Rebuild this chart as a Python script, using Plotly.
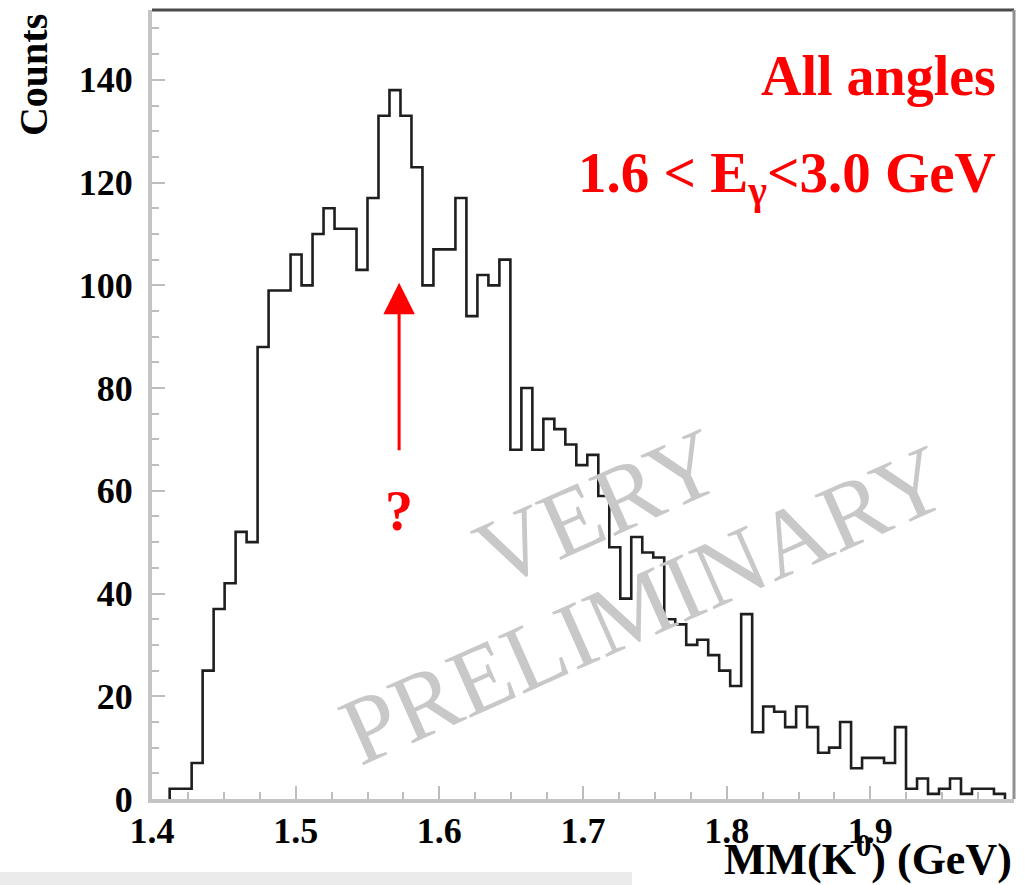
import numpy as np
import plotly.graph_objects as go

# Missing-mass histogram, MM(K0), all angles, 1.6 < E_gamma < 3.0 GeV
bin_start = 1.4123      # GeV, lower edge of first bin
bin_width = 0.00765     # GeV
counts = [2, 2, 7, 25, 37, 42, 52, 50, 88, 99,
          99, 106, 100, 110, 115, 111, 111, 103, 117, 133,
          138, 133, 123, 100, 107, 107, 117, 94, 102, 100,
          105, 68, 80, 68, 74, 72, 69, 65, 67, 59,
          49, 39, 51, 48, 47, 35, 34, 30, 31, 28,
          25, 22, 36, 13, 18, 17, 14, 18, 14, 9,
          10, 15, 6, 8, 8, 7, 14, 2, 4, 1,
          2, 4, 1, 2, 2, 1]

x_ticks = [1.4, 1.5, 1.6, 1.7, 1.8, 1.9]
x_ticktext = ["1.4", "1.5", "1.6", "1.7", "1.8", "1.9"]
y_ticks = [0, 20, 40, 60, 80, 100, 120, 140]
y_ticktext = ["0", "20", "40", "60", "80", "100", "120", "140"]

arrow_x = 1.572
arrow_y_tail = 67.6
arrow_y_head = 100.5

edges = bin_start + bin_width * np.arange(len(counts) + 1)
step_x = np.concatenate([[edges[0]], edges])
step_y = np.concatenate([[0], counts, [0]])

SERIF = "Liberation Serif"
RED = "#ff0000"

fig = go.Figure()
fig.add_trace(go.Scatter(
    x=step_x, y=step_y, mode="lines", line_shape="hv",
    line=dict(color="#1e1e1e", width=2.6), hoverinfo="skip", showlegend=False,
))

axis_common = dict(
    ticks="inside", ticklen=13, tickwidth=2, tickcolor="#bdbdbd",
    showline=True, linecolor="#c4c4c4", linewidth=4,
    showgrid=False, zeroline=False,
    tickfont=dict(family=SERIF, size=36, color="#000000", weight="bold"),
)

fig.update_xaxes(
    range=[1.4, 2.0], tickmode="array", tickvals=x_ticks, ticktext=x_ticktext,
    minor=dict(ticks="inside", tickmode="linear", tick0=1.4, dtick=0.025,
               ticklen=7, tickwidth=2, tickcolor="#bdbdbd", showgrid=False),
    ticklabelstandoff=-3,
    **axis_common,
)
fig.update_yaxes(
    range=[0, 153.6], tickmode="array", tickvals=y_ticks, ticktext=y_ticktext,
    minor=dict(ticks="inside", tickmode="linear", tick0=0, dtick=5,
               ticklen=7, tickwidth=2, tickcolor="#bdbdbd", showgrid=False),
    ticklabelstandoff=8,
    **axis_common,
)

# frame: top and right edges
fig.add_shape(type="line", xref="paper", yref="paper", x0=0, x1=1, y0=1, y1=1,
              line=dict(color="#4a4a4a", width=3))
fig.add_shape(type="line", xref="paper", yref="paper", x0=1, x1=1, y0=0, y1=1,
              line=dict(color="#909090", width=3))
# light strip along the bottom edge of the page
fig.add_shape(type="rect", xref="paper", yref="paper", x0=-0.18, x1=0.5568,
              y0=-0.115, y1=-0.0925, line=dict(width=0), fillcolor="#ebebeb")

annotations = [
    # watermark
    dict(text="VERY", x=0.5174, y=0.370, xref="paper", yref="paper",
         textangle=-24, showarrow=False, xanchor="center", yanchor="middle",
         font=dict(family=SERIF, size=96, color="#c8c8c8")),
    dict(text="PRELIMINARY", x=0.5708, y=0.2459, xref="paper", yref="paper",
         textangle=-24, showarrow=False, xanchor="center", yanchor="middle",
         font=dict(family=SERIF, size=96, color="#c8c8c8")),
    # axis titles
    dict(text="Counts", x=-0.138, y=0.9176, xref="paper", yref="paper",
         textangle=-90, showarrow=False, xanchor="center", yanchor="middle",
         font=dict(family=SERIF, size=40, color="#000000", weight="bold")),
    dict(text="MM(K<sup>0</sup>) (GeV)", x=1.0, y=-0.0735, xref="paper", yref="paper",
         showarrow=False, xanchor="right", yanchor="middle",
         font=dict(family=SERIF, size=44, color="#000000", weight="bold")),
    # red labels
    dict(text="All angles", x=0.9814, y=0.9163, xref="paper", yref="paper",
         showarrow=False, xanchor="right", yanchor="middle",
         font=dict(family=SERIF, size=56, color=RED, weight="bold")),
    dict(text="1.6 &lt; E<sub>γ</sub>&lt;3.0 GeV", x=0.9814, y=0.7883,
         xref="paper", yref="paper", showarrow=False, xanchor="right", yanchor="middle",
         font=dict(family=SERIF, size=57, color=RED, weight="bold")),
    dict(text="?", x=arrow_x, y=56, xref="x", yref="y", showarrow=False,
         xanchor="center", yanchor="middle",
         font=dict(family=SERIF, size=56, color=RED, weight="bold")),
    # arrow
    dict(text="", x=arrow_x, y=arrow_y_head, ax=arrow_x, ay=arrow_y_tail,
         xref="x", yref="y", axref="x", ayref="y", showarrow=True,
         arrowhead=2, arrowsize=2.1, arrowwidth=3, arrowcolor=RED, standoff=0),
]
fig.update_layout(
    width=1027, height=885,
    margin=dict(l=152, r=13, t=10, b=86),
    paper_bgcolor="#ffffff", plot_bgcolor="#ffffff",
    annotations=annotations, showlegend=False,
)

fig.write_html("out.html")
